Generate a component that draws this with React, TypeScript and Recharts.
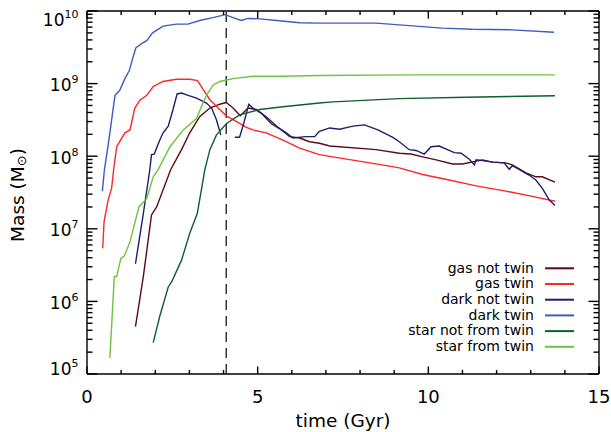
import React from 'react';
import { LineChart, Line, XAxis, YAxis, ReferenceLine, Legend } from 'recharts';

const FONT = '"DejaVu Sans", Verdana, sans-serif';

const gasNotTwinTime = [1.42, 1.65, 1.89, 2.04, 2.45, 2.77, 3.01, 3.30, 3.60, 3.89, 4.08, 4.28, 4.49, 4.72, 4.96, 5.25, 5.55, 5.94, 6.23, 6.52, 6.81, 7.11, 8.47, 9.15, 9.49, 9.83, 10.23, 10.71, 11.00, 11.59, 11.88, 12.27, 12.46, 12.86, 13.15, 13.34, 13.71];
const gasNotTwinMass = [4.5e5, 2.2e6, 1.55e7, 2.0e7, 6.5e7, 1.23e8, 2.1e8, 3.5e8, 4.6e8, 5.2e8, 5.5e8, 4.6e8, 3.6e8, 4.6e8, 4.4e8, 3.5e8, 2.6e8, 1.86e8, 1.78e8, 1.58e8, 1.51e8, 1.38e8, 1.23e8, 1.10e8, 1.07e8, 9.8e7, 8.9e7, 7.8e7, 7.8e7, 8.9e7, 8.3e7, 8.1e7, 7.6e7, 5.9e7, 5.2e7, 5.2e7, 4.4e7];

const gasTwinTime = [0.46, 0.50, 0.62, 0.72, 0.79, 0.87, 1.11, 1.26, 1.40, 1.55, 1.75, 1.94, 2.22, 2.62, 3.01, 3.24, 3.40, 3.60, 3.89, 4.08, 4.28, 4.67, 4.86, 5.25, 5.74, 6.23, 6.81, 7.20, 8.65, 9.15, 9.83, 10.61, 11.40, 12.27, 13.05, 13.71];
const gasTwinMass = [5.4e6, 1.26e7, 2.5e7, 3.6e7, 7.1e7, 1.35e8, 2.1e8, 2.3e8, 4.6e8, 5.9e8, 6.9e8, 9.1e8, 1.07e9, 1.15e9, 1.15e9, 1.10e9, 8.3e8, 6.0e8, 4.4e8, 3.6e8, 3.2e8, 2.5e8, 2.3e8, 2.1e8, 1.66e8, 1.29e8, 1.05e8, 9.8e7, 7.6e7, 6.9e7, 5.6e7, 4.7e7, 3.9e7, 3.3e7, 2.8e7, 2.4e7];

const darkNotTwinTime = [1.42, 1.65, 1.84, 1.89, 1.97, 2.13, 2.23, 2.38, 2.52, 2.64, 2.77, 2.96, 3.21, 3.50, 3.65, 3.79, 3.92, 4.10, 4.33, 4.47, 4.57, 4.74, 4.86, 5.11, 5.40, 5.64, 5.84, 6.03, 6.42, 6.67, 6.81, 7.11, 7.40, 7.79, 8.13, 8.52, 8.96, 9.15, 9.44, 9.64, 9.88, 10.08, 10.32, 10.61, 10.76, 10.96, 11.20, 11.35, 11.40, 11.59, 11.88, 12.22, 12.37, 12.46, 12.66, 12.95, 13.15, 13.34, 13.54, 13.71];
const darkNotTwinMass = [3.3e6, 1.62e7, 6.5e7, 1.05e8, 1.07e8, 1.66e8, 2.1e8, 2.6e8, 4.4e8, 7.2e8, 7.4e8, 6.9e8, 6.3e8, 5.4e8, 4.6e8, 3.2e8, 1.95e8, null, 1.82e8, 1.82e8, 2.6e8, 5.2e8, 4.6e8, 3.9e8, 2.8e8, 2.4e8, 2.1e8, 1.78e8, 1.86e8, 1.86e8, 2.2e8, 2.45e8, 2.35e8, 2.6e8, 2.7e8, 2.3e8, 1.82e8, 1.58e8, 1.23e8, 1.20e8, 1.07e8, 1.35e8, 1.38e8, 1.20e8, 1.12e8, 1.10e8, 9.1e7, 7.6e7, 8.9e7, 8.7e7, 8.3e7, 8.1e7, 6.6e7, 7.4e7, 6.6e7, 5.5e7, 4.7e7, 3.6e7, 2.5e7, 2.1e7];

const darkTwinTime = [0.45, 0.51, 0.60, 0.67, 0.82, 0.96, 1.11, 1.24, 1.34, 1.43, 1.60, 1.75, 1.92, 2.23, 2.62, 2.96, 3.30, 3.69, 4.05, 4.28, 4.52, 4.72, 5.06, 5.56, 6.23, 6.81, 8.47, 10.41, 11.29, 12.46, 13.68];
const darkTwinMass = [3.3e7, 6.5e7, 1.23e8, 2.1e8, 6.9e8, 8.1e8, 1.17e9, 1.51e9, 2.24e9, 3.1e9, 3.55e9, 3.9e9, 5.0e9, 6.2e9, 6.6e9, 6.6e9, 7.4e9, 8.1e9, 8.9e9, 8.1e9, 7.4e9, 7.9e9, 7.8e9, 7.4e9, 6.9e9, 6.8e9, 6.8e9, 5.8e9, 5.6e9, 5.5e9, 5.1e9];

const starNotFromTwinTime = [1.94, 2.13, 2.38, 2.48, 2.77, 3.01, 3.23, 3.35, 3.45, 3.60, 3.79, 4.08, 4.47, 5.06, 5.74, 6.81, 7.20, 9.15, 11.10, 13.71];
const starNotFromTwinMass = [2.7e5, 6.2e5, 1.58e6, 1.86e6, 3.7e6, 8.7e6, 1.62e7, 3.4e7, 6.5e7, 1.23e8, 1.95e8, 2.8e8, 3.7e8, 4.4e8, 4.8e8, 5.4e8, 5.6e8, 6.2e8, 6.5e8, 6.8e8];

const starFromTwinTime = [0.67, 0.80, 0.87, 0.99, 1.09, 1.26, 1.52, 1.75, 1.94, 2.08, 2.43, 2.82, 3.21, 3.35, 3.50, 3.69, 3.89, 4.28, 4.86, 5.74, 6.81, 9.50, 13.71];
const starFromTwinMass = [1.66e5, 2.2e6, 2.2e6, 3.9e6, 4.2e6, 6.6e6, 2.0e7, 2.6e7, 5.2e7, 6.5e7, 1.35e8, 2.3e8, 3.3e8, 4.8e8, 6.9e8, 9.5e8, 1.07e9, 1.17e9, 1.26e9, 1.26e9, 1.29e9, 1.32e9, 1.32e9];

const mergerTime = 4.08;

const seriesNames = ['gas not twin', 'gas twin', 'dark not twin', 'dark twin', 'star not from twin', 'star from twin'];
const seriesColors = ['#5c0a14', '#ff2626', '#1e1e6e', '#3d5cc0', '#0f5f2c', '#6cc43e'];
const seriesTimes = [gasNotTwinTime, gasTwinTime, darkNotTwinTime, darkTwinTime, starNotFromTwinTime, starFromTwinTime];
const seriesMasses = [gasNotTwinMass, gasTwinMass, darkNotTwinMass, darkTwinMass, starNotFromTwinMass, starFromTwinMass];

const xTicks = [0, 1, 2, 3, 4, 5, 6, 7, 8, 9, 10, 11, 12, 13, 14, 15];
const yDecades = [1e5, 1e6, 1e7, 1e8, 1e9];
const yMultipliers = [1, 2, 3, 4, 5, 6, 7, 8, 9];
const yTicks = [...yDecades.flatMap((d) => yMultipliers.map((m) => m * d)), 1e10];

const series = seriesNames.map((name, i) => ({
  name,
  color: seriesColors[i],
  data: seriesTimes[i].map((t, j) => ({ t, m: seriesMasses[i][j] })),
}));

const isMajorLog = (v: number) => {
  const lg = Math.log10(v);
  return Math.abs(lg - Math.round(lg)) < 1e-6;
};

const TICK_COLOR = '#000';
const TICK_W = 1.4;

function YTick(props: any) {
  const { x, y, payload, side } = props;
  const v = Number(payload.value);
  const px = Number(x);
  const py = Number(y);
  const major = isMajorLog(v);
  const len = major ? 10.5 : 5.5;
  const dir = side === 'left' ? 1 : -1;
  const exp = Math.round(Math.log10(v));
  let by = py + 7.5;
  if (exp === 10) by = py + 14.5;
  if (exp === 5) by = py + 1;
  return (
    <g>
      <rect x={Math.min(px, px + dir * len)} y={py - TICK_W / 2} width={len} height={TICK_W} fill={TICK_COLOR} />
      {major && side === 'left' ? (
        <text x={px - 8.5} y={by} textAnchor="end" fontSize={17} fontFamily={FONT} fill="#000">
          10
          <tspan dy={-8} fontSize={11}>
            {exp}
          </tspan>
        </text>
      ) : null}
    </g>
  );
}

function XTick(props: any) {
  const { x, y, payload, side } = props;
  const v = Number(payload.value);
  const px = Number(x);
  const py = Number(y);
  const major = v % 5 === 0;
  const len = major ? 7.5 : 4;
  const dir = side === 'bottom' ? -1 : 1;
  return (
    <g>
      <rect x={px - TICK_W / 2} y={Math.min(py, py + dir * len)} width={TICK_W} height={len} fill={TICK_COLOR} />
      {major && side === 'bottom' ? (
        <text x={px} y={py + 29} textAnchor="middle" fontSize={18} fontFamily={FONT} fill="#000">
          {v}
        </text>
      ) : null}
    </g>
  );
}

function LegendBox() {
  return (
    <svg width={210} height={100} style={{ display: 'block' }}>
      {series.map((s, i) => {
        const cy = 10.3 + i * 15.7;
        return (
          <g key={s.name}>
            <text x={154} y={cy + 4.2} textAnchor="end" fontSize={14} fontFamily={FONT} fill="#000">
              {s.name}
            </text>
            <line x1={165} x2={194} y1={cy} y2={cy} stroke={s.color} strokeWidth={2} />
          </g>
        );
      })}
    </svg>
  );
}

const axisLine = { stroke: '#000', strokeWidth: 1.4 };

export default function App() {
  return (
    <div style={{ position: 'absolute', left: 0, top: 0, width: 611, height: 432, background: '#fff' }}>
      <LineChart width={611} height={432} margin={{ top: 0, right: 0, bottom: 0, left: 0 }}>
        <XAxis xAxisId="bottom" orientation="bottom" dataKey="t" type="number" domain={[0, 15]} allowDataOverflow
          ticks={xTicks} interval={0} height={58} tickSize={0} tickMargin={0} axisLine={axisLine} tickLine={false}
          tick={(p: any) => <XTick {...p} side="bottom" />}
          label={{ content: () => (
            <text x={343} y={427} textAnchor="middle" fontSize={18.5} fontFamily={FONT} fill="#000">time (Gyr)</text>
          ) }}
        />
        <XAxis xAxisId="top" orientation="top" dataKey="t" type="number" domain={[0, 15]} allowDataOverflow
          ticks={xTicks} interval={0} height={11} tickSize={0} tickMargin={0} axisLine={axisLine} tickLine={false}
          tick={(p: any) => <XTick {...p} side="top" />}
        />
        <YAxis yAxisId="left" orientation="left" type="number" scale="log" domain={[1e5, 1e10]} allowDataOverflow
          ticks={yTicks} interval={0} width={87} tickSize={0} tickMargin={0} axisLine={axisLine} tickLine={false}
          tick={(p: any) => <YTick {...p} side="left" />}
          label={{ content: () => (
            <text x={24} y={195} transform="rotate(-90, 24, 195)" textAnchor="middle" fontSize={18.5} fontFamily={FONT} fill="#000">
              Mass (M<tspan fontSize={13} dy={2}>⊙</tspan><tspan dy={-2}>)</tspan>
            </text>
          ) }}
        />
        <YAxis yAxisId="right" orientation="right" type="number" scale="log" domain={[1e5, 1e10]} allowDataOverflow
          ticks={yTicks} interval={0} width={12} tickSize={0} tickMargin={0} axisLine={axisLine} tickLine={false}
          tick={(p: any) => <YTick {...p} side="right" />}
        />
        <ReferenceLine x={mergerTime} xAxisId="bottom" yAxisId="left" stroke="#333" strokeWidth={1.5} strokeDasharray="10 6" />
        {series.map((s) => (
          <Line key={s.name} name={s.name} data={s.data} dataKey="m" xAxisId="bottom" yAxisId="left" type="linear"
            stroke={s.color} strokeWidth={1.4} dot={false} activeDot={false} isAnimationActive={false} connectNulls={false} />
        ))}
        <Legend layout="vertical" align="center" verticalAlign="middle"
          wrapperStyle={{ left: 380, top: 258, width: 210, height: 100 }}
          content={() => <LegendBox />}
        />
      </LineChart>
    </div>
  );
}
